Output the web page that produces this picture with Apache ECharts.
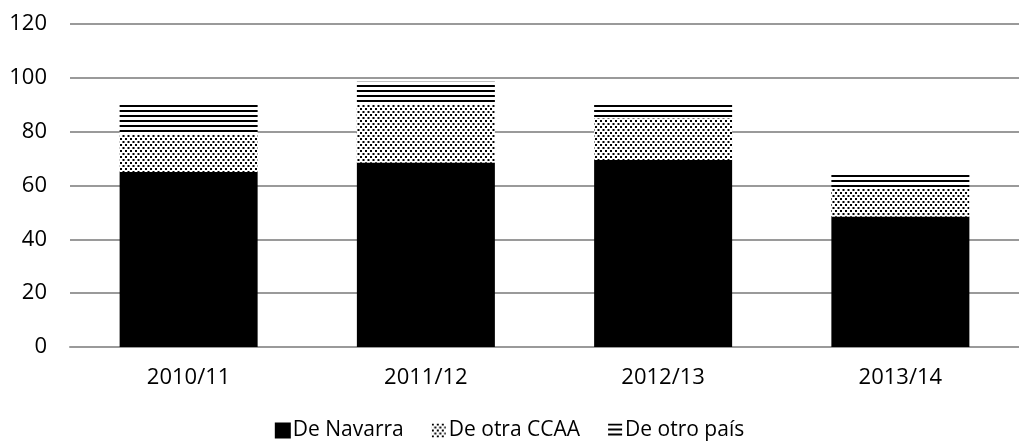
<!DOCTYPE html>
<html>
<head>
<meta charset="utf-8">
<script src="https://cdn.jsdelivr.net/npm/echarts@6/dist/echarts.min.js"></script>
<style>
  html, body { margin: 0; padding: 0; background: #fff; }
  #chart { width: 1019px; height: 446px; }
</style>
</head>
<body>
<div id="chart"></div>
<script>
// datos
var cursos = ['2010/11', '2011/12', '2012/13', '2013/14']
var deNavarra = [65, 68.5, 69.5, 48.5]
var deOtraCCAA = [14, 21.5, 15.5, 10.5]
var deOtroPais = [12, 8.5, 6, 5.5]
var yTicks = [0, 20, 40, 60, 80, 100, 120]

// tramas de relleno (puntos y rayas)
function makeDots () {
  var c = document.createElement('canvas')
  c.width = 5
  c.height = 6
  var ctx = c.getContext('2d')
  ctx.fillStyle = '#fff'
  ctx.fillRect(0, 0, 5, 6)
  ctx.fillStyle = '#000'
  ctx.fillRect(0, 0, 2, 2)
  ctx.fillRect(2.5, 3, 2, 2)
  return c
}
function makeStripes () {
  var c = document.createElement('canvas')
  c.width = 4
  c.height = 5
  var ctx = c.getContext('2d')
  ctx.fillStyle = '#fff'
  ctx.fillRect(0, 0, 4, 5)
  ctx.fillStyle = '#000'
  ctx.fillRect(0, 0, 4, 2)
  return c
}

var chart = echarts.init(document.getElementById('chart'))
var font = '"Open Sans", sans-serif'
var option = {
  animation: false,
  textStyle: { fontFamily: font },
  grid: {
    left: 70,
    right: -7,
    top: 24,
    bottom: 99
  },
  legend: {
    left: 'center',
    bottom: 0,
    itemWidth: 14,
    itemHeight: 14,
    itemGap: 28,
    icon: 'rect',
    textStyle: { fontSize: 21, color: '#000', fontFamily: font, padding: [0, 0, 0, -2] },
    data: ['De Navarra', 'De otra CCAA', 'De otro país']
  },
  xAxis: {
    type: 'category',
    data: cursos,
    axisLine: { show: true, lineStyle: { color: '#9a9a9a', width: 2 } },
    axisTick: { show: false },
    axisLabel: { color: '#000', fontSize: 22, margin: 20, fontFamily: font }
  },
  yAxis: {
    type: 'value',
    min: yTicks[0],
    max: yTicks[yTicks.length - 1],
    interval: 20,
    axisLine: { show: false },
    axisTick: { show: false },
    splitLine: { lineStyle: { color: '#9a9a9a', width: 2 } },
    axisLabel: { color: '#000', fontSize: 22, margin: 23, fontFamily: font }
  },
  series: [
    {
      name: 'De Navarra',
      type: 'bar',
      stack: 'total',
      barWidth: 138,
      itemStyle: { color: '#000', borderColor: '#000', borderWidth: 5 },
      data: deNavarra
    },
    {
      name: 'De otra CCAA',
      type: 'bar',
      stack: 'total',
      barWidth: 138,
      itemStyle: { color: { image: makeDots(), repeat: 'repeat' } },
      data: deOtraCCAA
    },
    {
      name: 'De otro país',
      type: 'bar',
      stack: 'total',
      barWidth: 138,
      itemStyle: { color: { image: makeStripes(), repeat: 'repeat' } },
      data: deOtroPais
    }
  ]
}
chart.setOption(option)
</script>
</body>
</html>
